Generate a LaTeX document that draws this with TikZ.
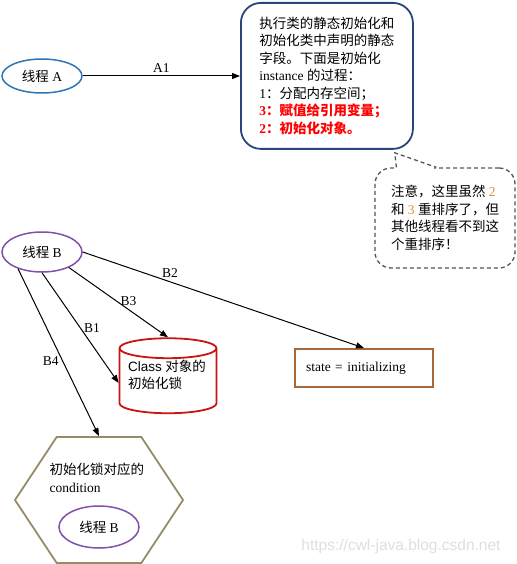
\documentclass[tikz,border=0pt]{standalone}
\usepackage{fontspec}
\setmainfont{Liberation Serif}
\newfontfamily\cjk{Noto Sans CJK SC}
\newfontfamily\arialfont{Liberation Sans}
\usetikzlibrary{arrows.meta, positioning, shapes.geometric, shapes.symbols}

\definecolor{threadblue}{RGB}{46,117,182}
\definecolor{threadpurple}{RGB}{128,80,170}
\definecolor{boxblue}{RGB}{44,68,124}
\definecolor{lockred}{RGB}{200,20,20}
\definecolor{statebrown}{RGB}{168,104,56}
\definecolor{hexolive}{RGB}{150,140,100}
\definecolor{notegray}{RGB}{85,85,85}
\definecolor{numorange}{RGB}{228,140,50}
\definecolor{wmgray}{RGB}{222,222,222}

\newcommand{\zh}[1]{{\cjk #1}}

\begin{document}
\begin{tikzpicture}[x=1pt, y=-1pt,
    font=\fontsize{13.5}{17.5}\selectfont,
    thread/.style={ellipse, draw, line width=1.5pt, minimum width=80pt, minimum height=34pt, inner sep=0pt},
    flow/.style={-{Triangle[length=8pt, width=6pt]}, line width=1pt},
    notedash/.style={draw=notegray, dash pattern=on 4pt off 3pt, line width=1.3pt}]
    \useasboundingbox (0,0) rectangle (516,564);

    % Thread A and the initialisation steps
    \node[thread, draw=threadblue] (ta) at (42,76) {\zh{线程} A};
    \node[draw=boxblue, line width=1.8pt, rounded corners=20pt, minimum width=172pt, minimum height=146pt,
          align=left, anchor=north west] (init) at (240,2)
        {\zh{执行类的静态初始化和}\\
         \zh{初始化类中声明的静态}\\
         \zh{字段。下面是初始化}\\
         instance \zh{的过程：}\\
         1\zh{：分配内存空间；}\\
         {\color{red}\bfseries 3\zh{：赋值给引用变量；}}\\
         {\color{red}\bfseries 2\zh{：初始化对象。}}};
    \draw[flow] (ta.east) -- (ta.east -| init.west) node[midway, above] {A1};

    % Note with its tail
    \node[notedash, rounded corners=16pt, minimum width=140pt, minimum height=100pt, align=left] (note) at (445,218)
        {\zh{注意，这里虽然} {\color{numorange}2}\\
         \zh{和} {\color{numorange}3} \zh{重排序了，但}\\
         \zh{其他线程看不到这}\\
         \zh{个重排序！}};
    \coordinate (tip) at ([xshift=-19pt, yshift=-3pt]init.south east);
    \fill[white] ([xshift=23pt, yshift=3pt]note.north west) rectangle ([xshift=60pt, yshift=-3pt]note.north west);
    \draw[notedash] ([xshift=22pt]note.north west) -- (tip) -- ([xshift=62pt]note.north west);

    % Thread B
    \node[thread, draw=threadpurple, minimum height=40pt] (tb) at (42,252) {\zh{线程} B};

    % Class lock
    \node[cylinder, shape border rotate=90, aspect=0.25, draw=lockred, line width=1.8pt,
          minimum width=97pt, minimum height=75pt, align=left] (lock) at (168,383)
        {\phantom{Class \zh{对象的}}\\\phantom{\zh{初始化锁}}};
    \node[align=left] (locktext) at (167,375) {{\arialfont Class} \zh{对象的}\\\zh{初始化锁}};

    % State
    \node[draw=statebrown, line width=2pt, inner xsep=11pt, text width=116pt, minimum height=38pt,
          align=left, anchor=north west] (state) at (294,348) {state = initializing};

    % Condition
    \node[signal, signal to=east and west, signal pointer angle=113, draw=hexolive, line width=1.8pt,
          minimum width=168pt, minimum height=126pt] (cond) at (99,500) {};
    \node[anchor=north west, align=left] (condtext) at (46,460) {\zh{初始化锁对应的}\\condition};
    \node[thread, draw=threadpurple, minimum height=42pt] (tbin) at (99,527) {\zh{线程} B};

    % Thread B arrows
    \draw[flow] (tb.east) -- (state.north) node[pos=0.31, above] {B2};
    \draw[flow] (tb.-30) -- (lock.north) node[pos=0.6, above] {B3};
    \draw[flow] (tb.south) -- (lock.west) node[pos=0.5, right] {B1};
    \draw[flow] (tb.-145) -- (cond.north) node[pos=0.55, left] {B4};

    % Watermark
    \node[text=wmgray, font=\arialfont\fontsize{15.5}{18}\selectfont] (wm) at (401,546) {https://cwl-java.blog.csdn.net};
\end{tikzpicture}
\end{document}
